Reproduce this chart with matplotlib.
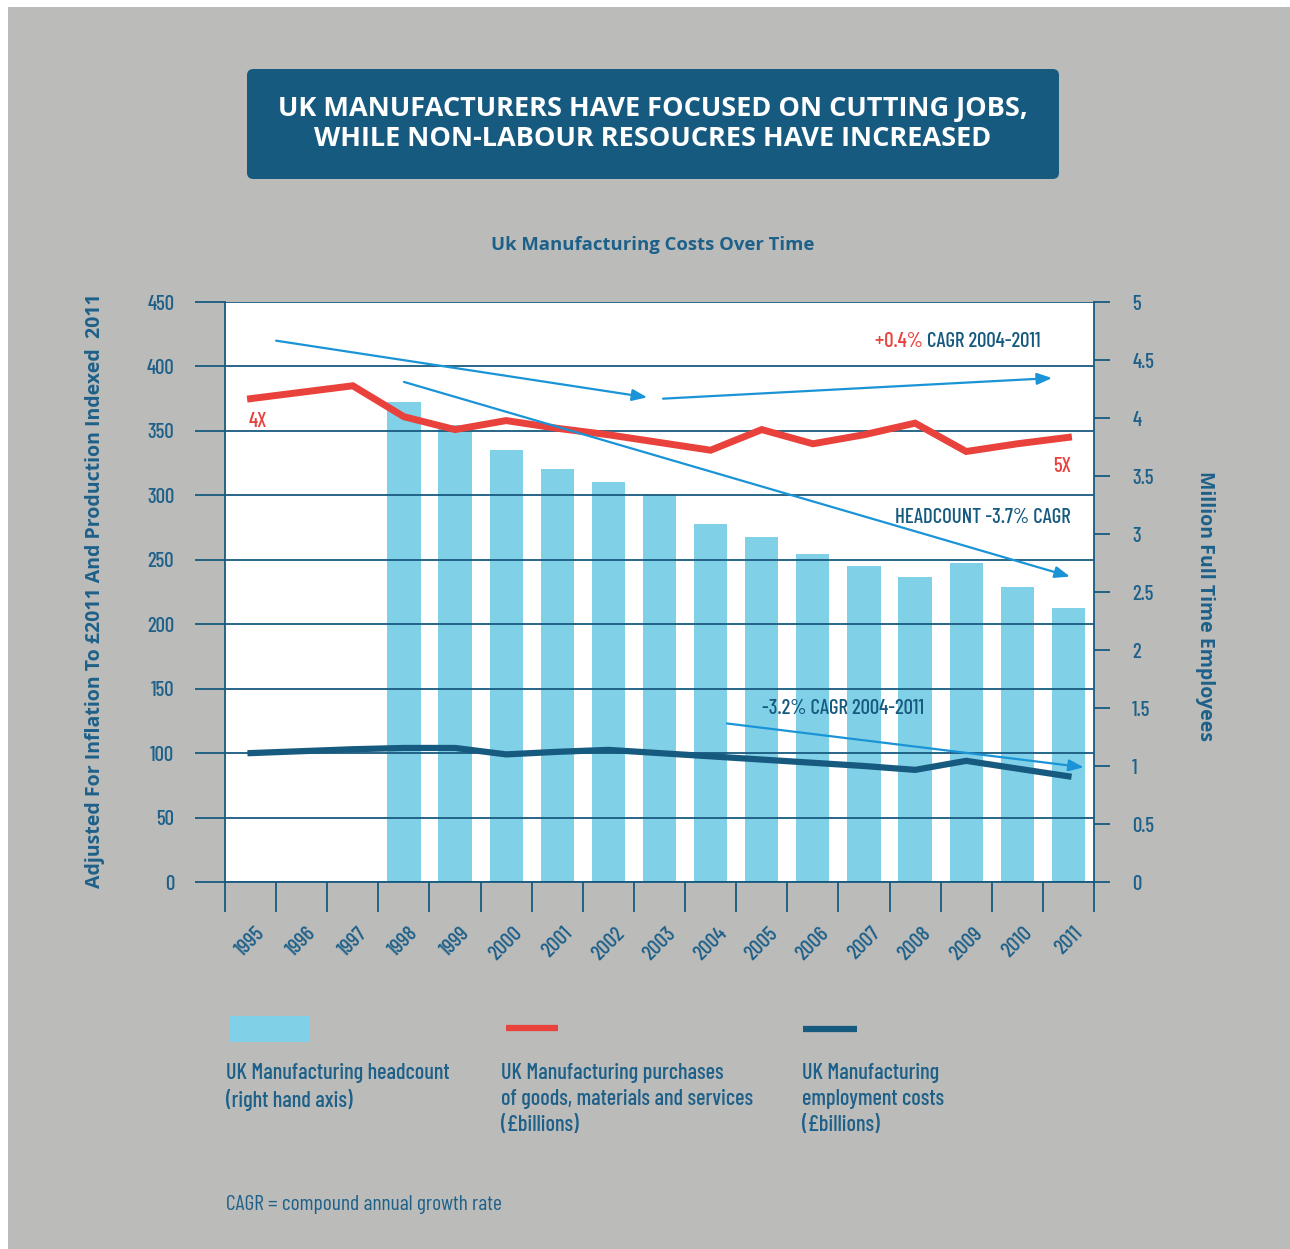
import numpy as np
import matplotlib
matplotlib.use("Agg")
import matplotlib.pyplot as plt
from matplotlib.patches import Rectangle, FancyBboxPatch
from matplotlib.lines import Line2D

# DATA
years = [str(y) for y in range(1995, 2012)]
# headcount, million full time employees (right axis), starts 1998
headcount = [np.nan, np.nan, np.nan, 4.14, 3.94, 3.72, 3.56, 3.45, 3.34,
             3.09, 2.97, 2.83, 2.72, 2.63, 2.75, 2.54, 2.36]
# purchases of goods, materials and services (left axis)
purchases = [375, 380, 385, 361, 351, 358, 352, 347, 341,
             335, 351, 340, 347, 356, 334, 340, 345]
# employment costs (left axis)
employment = [100, 101.5, 103, 104, 104, 99, 101, 102.5, 100,
              97.5, 95, 92.5, 90, 87, 94, 88, 82]
left_ticks = [0, 50, 100, 150, 200, 250, 300, 350, 400, 450]
right_ticks = [0, 0.5, 1, 1.5, 2, 2.5, 3, 3.5, 4, 4.5, 5]
right_labels = ["0", "0.5", "1", "1.5", "2", "2.5", "3", "3.5", "4", "4.5", "5"]

# trend arrows (x = year index, y = left axis units)
arrows = [((0.5, 420), (7.76, 376)),
          ((8.07, 375), (15.68, 391)),
          ((3.0, 388), (16.03, 237)),
          ((9.32, 123), (16.3, 89))]

# COLOURS / FONTS
BG = "#bbbbb9"
NAVY = "#175a80"
TXT = "#1d6089"
BAR = "#80d1e7"
RED = "#e9413b"
ARROW = "#1a94d6"
NARROW = ["Barlow Condensed", "Roboto Condensed", "DejaVu Sans"]
BOLD = ["Open Sans", "DejaVu Sans"]
NW = "medium"

W, H = 1290, 1249
fig = plt.figure(figsize=(W / 100, H / 100), dpi=100, facecolor="white")


def fx(x):
    return x / W


def fy(y):
    return 1 - y / H


fig.patches.append(Rectangle((fx(8), 0), 1 - fx(8), fy(7), transform=fig.transFigure,
                             facecolor=BG, edgecolor="none", zorder=-10))

# title box
fig.patches.append(FancyBboxPatch((fx(247), fy(179)), fx(1059 - 247), (179 - 69) / H,
                                  boxstyle="round,pad=0,rounding_size=0.005",
                                  transform=fig.transFigure, facecolor=NAVY,
                                  edgecolor="none", zorder=-5))
fig.text(fx(653), fy(109), "UK MANUFACTURERS HAVE FOCUSED ON CUTTING JOBS,",
         ha="center", va="center", color="white", fontsize=19.5, fontweight="bold", family=BOLD)
fig.text(fx(653), fy(139), "WHILE NON-LABOUR RESOUCRES HAVE INCREASED",
         ha="center", va="center", color="white", fontsize=19.5, fontweight="bold", family=BOLD)
fig.text(fx(653), fy(245), "Uk Manufacturing Costs Over Time", ha="center", va="center",
         color=TXT, fontsize=13.3, fontweight="bold", family=BOLD)
fig.text(fx(95), fy(591), "Adjusted For Inflation To £2011 And Production Indexed  2011",
         rotation=90, ha="center", va="center", color=TXT, fontsize=14,
         fontweight="bold", family=BOLD)
fig.text(fx(1205), fy(606), "Million Full Time Employees", rotation=-90, ha="center",
         va="center", color=TXT, fontsize=14, fontweight="bold", family=BOLD)

# AXES: bars on the base axes (right scale), lines on a twin (left scale)
L, R, T, B = 225, 1094, 302, 882
ax = fig.add_axes([fx(L), fy(B), fx(R - L), (B - T) / H])
ax.set_facecolor("white")
axl = ax.twinx()

x = np.arange(len(years))
ax.bar(x, headcount, width=0.65, color=BAR, zorder=1)
ax.set_xlim(-0.5, len(years) - 0.5)
ax.set_ylim(0, 5)
ax.yaxis.tick_right()
ax.set_yticks(right_ticks)
ax.set_yticklabels(right_labels, family=NARROW, fontsize=15, fontweight=NW, color=TXT)
ax.tick_params(axis="y", right=True, left=False, labelright=True, labelleft=False,
               direction="out", length=11.5, width=1.3, color=NAVY, pad=16)

ax.set_xticks(x)
ax.set_xticklabels(years, rotation=45, ha="center", va="top", family=NARROW,
                   fontsize=15.5, fontweight=NW, color=TXT)
ax.tick_params(axis="x", which="major", length=0, pad=30)
ax.set_xticks(np.arange(-0.5, len(years)), minor=True)
ax.tick_params(axis="x", which="minor", direction="out", length=21.6, width=1.3, color=NAVY)
ax.spines["top"].set_visible(False)
for s in ["left", "right", "bottom"]:
    ax.spines[s].set_color(NAVY)
    ax.spines[s].set_linewidth(1.3)

axl.yaxis.tick_left()
axl.set_ylim(0, 450)
axl.set_yticks(left_ticks)
axl.set_yticklabels([str(v) for v in left_ticks], family=NARROW, fontsize=15,
                    fontweight=NW, color=TXT)
axl.tick_params(axis="y", left=True, right=False, labelleft=True, labelright=False,
                direction="out", length=21.6, width=1.3, color=NAVY, pad=15)
axl.grid(axis="y", color=NAVY, linewidth=1.3)
for s in axl.spines.values():
    s.set_visible(False)

axl.plot(x, purchases, color=RED, linewidth=5, solid_joinstyle="miter", zorder=4)
axl.plot(x, employment, color=NAVY, linewidth=4.5, solid_joinstyle="miter", zorder=4)

for (x0, y0), (x1, y1) in arrows:
    axl.annotate("", xy=(x1, y1), xytext=(x0, y0),
                 arrowprops=dict(arrowstyle="-|>,head_length=0.9,head_width=0.35",
                                 color=ARROW, lw=1.6, shrinkA=0, shrinkB=0), zorder=5)

# annotations
tk = dict(family=NARROW, fontsize=15, fontweight=NW, va="center")
axl.text(-0.03, 357, "4X", color=RED, ha="left", **tk)
axl.text(16.05, 322, "5X", color=RED, ha="right", **tk)
axl.text(16.05, 283, "HEADCOUNT -3.7% CAGR", color=NAVY, ha="right", **tk)
axl.text(10.0, 135, "-3.2% CAGR 2004-2011", color=NAVY, ha="left", **tk)
t1 = axl.text(15.46, 419, "CAGR 2004-2011", color=NAVY, ha="right", **tk)
fig.canvas.draw()
axl.annotate("+0.4% ", xy=(0, 0.5), xycoords=t1, color=RED, ha="right", **tk)

# LEGEND
fig.patches.append(Rectangle((fx(230), fy(1042)), fx(79), 26 / H, transform=fig.transFigure,
                             facecolor=BAR, edgecolor="none"))
fig.lines.append(Line2D([fx(506), fx(558)], [fy(1028), fy(1028)], color=RED, lw=4.5,
                        transform=fig.transFigure, solid_capstyle="butt"))
fig.lines.append(Line2D([fx(803), fx(857)], [fy(1029), fy(1029)], color=NAVY, lw=4.5,
                        transform=fig.transFigure, solid_capstyle="butt"))
legend_text = [(226, "UK Manufacturing headcount\n(right hand axis)"),
               (501, "UK Manufacturing purchases\nof goods, materials and services\n(£billions)"),
               (802, "UK Manufacturing\nemployment costs\n(£billions)")]
for lx, s in legend_text:
    fig.text(fx(lx), fy(1063), s, ha="left", va="top", color=TXT, family=NARROW,
             fontsize=16, fontweight=NW, linespacing=1.36)
fig.text(fx(226), fy(1205), "CAGR = compound annual growth rate", ha="left", va="center",
         color=TXT, family=NARROW, fontsize=15.5)

fig.savefig("out.png", dpi=100, facecolor=fig.get_facecolor())
